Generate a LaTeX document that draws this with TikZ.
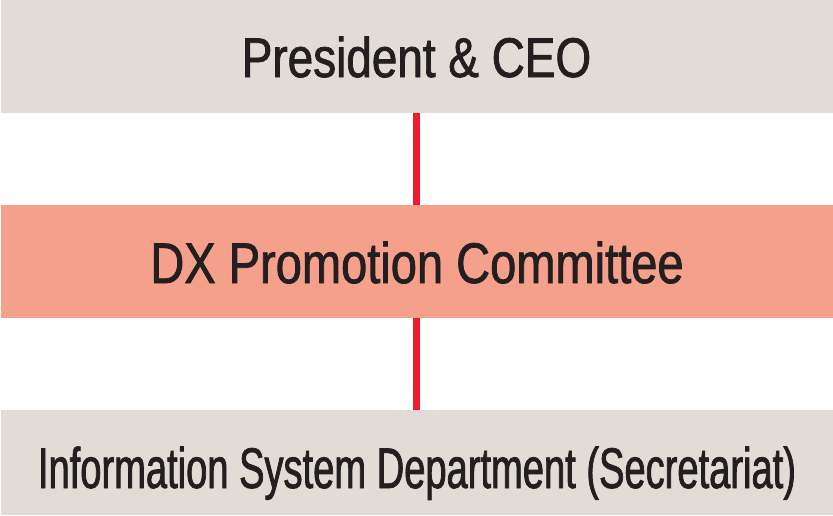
\documentclass[tikz,border=0pt]{standalone}
\usepackage{fontspec}
\setmainfont{Liberation Sans}
\newfontfamily\condA[FakeStretch=0.821,FakeBold=1.3]{Liberation Sans}
\newfontfamily\condB[FakeStretch=0.665,FakeBold=1.3]{Liberation Sans}
\definecolor{boxgray}{HTML}{E1DCD6}
\definecolor{boxsalmon}{HTML}{F5A08A}
\definecolor{linkred}{HTML}{EE1C2E}
\definecolor{inktext}{HTML}{231F20}
\begin{document}
\begin{tikzpicture}[x=1pt,y=-1pt,
  box/.style={rectangle, draw=none, minimum width=832pt, inner sep=0pt, outer sep=0pt},
  label/.style={anchor=base, inner sep=0pt, text=inktext},
  link/.style={draw=linkred, line width=6.5pt}]
\useasboundingbox (0,0) rectangle (833,515);
\node[box, fill=boxgray, minimum height=113pt] (ceo) at (417,56.5) {};
\node[box, fill=boxsalmon, minimum height=113pt] (dx) at (417,261.5) {};
\node[box, fill=boxgray, minimum height=105pt] (isd) at (417,462.5) {};
\coordinate (l1a) at (416.7,113);
\coordinate (l1b) at (416.7,205);
\coordinate (l2a) at (416.7,318);
\coordinate (l2b) at (416.7,410);
\draw[link] (l1a) -- (l1b);
\draw[link] (l2a) -- (l2b);
\node[label, font=\condA\fontsize{55.9pt}{60pt}\selectfont] (tceo) at (416.5,77) {President \& CEO};
\node[label, font=\condA\fontsize{57.3pt}{60pt}\selectfont] (tdx) at (417,283) {DX Promotion Committee};
\node[label, font=\condB\fontsize{57.3pt}{60pt}\selectfont] (tisd) at (417,488) {Information System Department (Secretariat)};
\end{tikzpicture}
\end{document}
